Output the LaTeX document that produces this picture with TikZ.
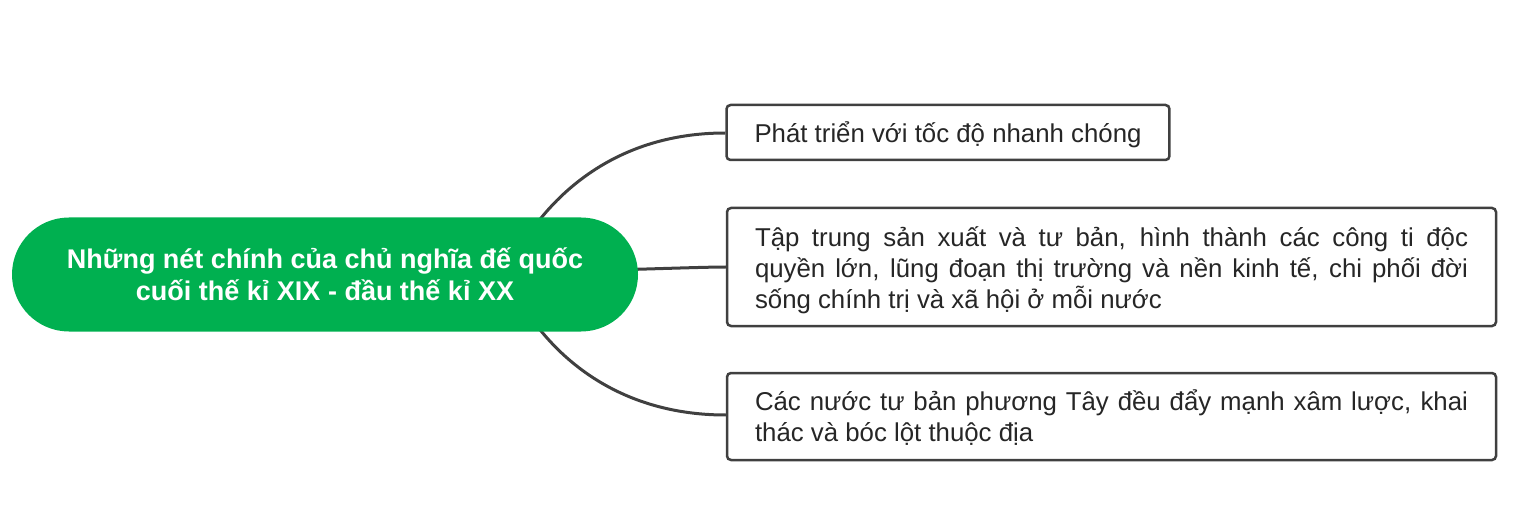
\documentclass[tikz,border=0pt]{standalone}
\usepackage{fontspec}
\setmainfont{Liberation Sans}
\usetikzlibrary{backgrounds}
\definecolor{mmgreen}{HTML}{00B050}
\definecolor{mmline}{HTML}{404040}
\definecolor{mmtext}{HTML}{262626}
\tikzset{
  pill/.style={fill=mmgreen, text=white, rounded corners=57pt, minimum width=626pt,
    minimum height=114pt, align=center, inner sep=0pt,
    font=\fontsize{27}{32.5}\selectfont\bfseries},
  topicbox/.style={draw=mmline, line width=2.5pt, rounded corners=4pt, fill=white,
    text=mmtext, inner xsep=28pt, inner ysep=0pt,
    font=\fontsize{25.8}{30.8}\selectfont},
  link/.style={draw=mmline, line width=3pt}
}
\begin{document}
\begin{tikzpicture}[x=1pt,y=-1pt]
\useasboundingbox (0,0) rectangle (1516,513);
\node[pill] (c) at (325,274.5) {Những nét chính của chủ nghĩa đế quốc\\cuối thế kỉ XIX - đầu thế kỉ XX};
\node[topicbox, minimum width=442pt, minimum height=55pt] (b1) at (948,132.5) {\raisebox{-2pt}[\height][\depth]{Phát triển với tốc độ nhanh chóng}};
\node[topicbox, minimum width=769pt, minimum height=118pt, text width=713pt, align=justify] (b2) at (1111.5,267)
  {\rule{0pt}{26pt}Tập trung sản xuất và tư bản, hình thành các công ti độc\linebreak quyền lớn, lũng đoạn thị trường và nền kinh tế, chi phối đời\linebreak sống chính trị và xã hội ở mỗi nước};
\node[topicbox, minimum width=769pt, minimum height=87pt, text width=713pt, align=justify] (b3) at (1111.5,416.5)
  {\rule{0pt}{22.5pt}Các nước tư bản phương Tây đều đẩy mạnh xâm lược, khai\linebreak thác và bóc lột thuộc địa};
\begin{pgfonlayer}{background}
\draw[link] ([xshift=213pt,yshift=-4.5pt]c.north) .. controls +(37,-47) and +(-90,0) .. ([yshift=-0.5pt]b1.west);
\draw[link] (c.center) .. controls +(200,0) and +(-40,0) .. (b2.west);
\draw[link] ([xshift=213pt,yshift=4.5pt]c.south) .. controls +(37,47) and +(-90,0) .. ([yshift=1.5pt]b3.west);
\end{pgfonlayer}
\end{tikzpicture}
\end{document}
